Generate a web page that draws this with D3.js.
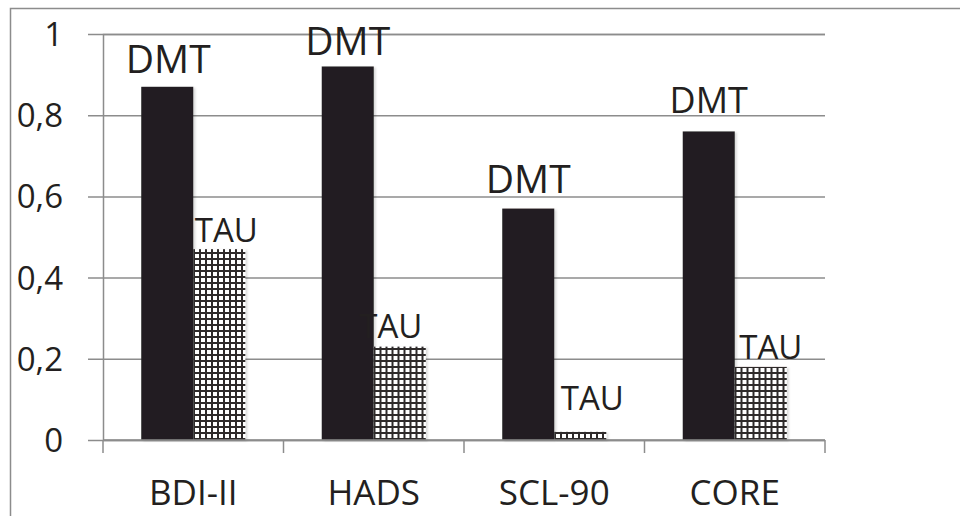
<!DOCTYPE html>
<html>
<head>
<meta charset="utf-8">
<script src="https://cdn.jsdelivr.net/npm/d3@7/dist/d3.min.js"></script>
<style>
  html, body { margin: 0; padding: 0; background: #fff; }
  svg { display: block; }
  text { font-family: "Open Sans", "Noto Sans", sans-serif; fill: #231f20; }
</style>
</head>
<body>
<svg id="chart" width="960" height="516"></svg>
<script>
// Scale instruments on the x axis
const categories = ["BDI-II", "HADS", "SCL-90", "CORE"];
// Effect sizes per group
const dmtValues = [0.87, 0.92, 0.57, 0.76];
const tauValues = [0.47, 0.23, 0.02, 0.18];
const seriesNames = ["DMT", "TAU"];
const yTicks = [0, 0.2, 0.4, 0.6, 0.8, 1];

// Label placement tweaks: [dx, dy from the bar top, font size]
const dmtLabelNudge = [[1, -14, 39], [0, -11, 39], [0, -16, 39], [0, -18, 36]];
const tauLabelNudge = [[7, -7, 33], [-9, -9, 33], [12, -22, 33], [10, -8, 33]];

const svg = d3.select("#chart");
const margin = { left: 103, right: 135, top: 34, bottom: 76 };
const W = 960, H = 516;

const x = d3.scaleBand().domain(categories)
  .range([margin.left, W - margin.right]).paddingInner(0).paddingOuter(0);
const xs = d3.scaleBand().domain(seriesNames)
  .range([0, x.bandwidth()]).paddingInner(0).paddingOuter(0.735);
const y = d3.scaleLinear().domain([0, 1]).range([H - margin.bottom, margin.top]);

// Outer frame
svg.append("rect").attr("x", 10.5).attr("y", 8.5).attr("width", 960).attr("height", 520)
  .attr("fill", "none").attr("stroke", "#8c8c8c").attr("stroke-width", 1.5);

// Cross-hatched fill for TAU bars
const defs = svg.append("defs");
const pat = defs.append("pattern").attr("id", "grid").attr("patternUnits", "userSpaceOnUse")
  .attr("width", 6).attr("height", 6);
pat.append("rect").attr("width", 6).attr("height", 6).attr("fill", "#fff");
pat.append("rect").attr("x", 0).attr("y", 0).attr("width", 2).attr("height", 6).attr("fill", "#2e2b2c");
pat.append("rect").attr("x", 0).attr("y", 0).attr("width", 6).attr("height", 2).attr("fill", "#2e2b2c");
const shadow = defs.append("filter").attr("id", "shadow")
  .attr("x", "-10%").attr("y", "-10%").attr("width", "130%").attr("height", "130%");
shadow.append("feDropShadow").attr("dx", 2).attr("dy", 1).attr("stdDeviation", 1.2)
  .attr("flood-color", "#000").attr("flood-opacity", 0.15);

// Gridlines and y axis
const yAxis = d3.axisLeft(y).tickValues(yTicks)
  .tickSize(-(W - margin.right - margin.left))
  .tickFormat(d => d3.format(".1~f")(d).replace(".", ","));
const gy = svg.append("g").attr("transform", `translate(${margin.left},0)`).call(yAxis);
gy.select(".domain").attr("stroke", "#8c8c8c").attr("stroke-width", 1.5);
gy.selectAll(".tick line").attr("stroke", "#8c8c8c").attr("stroke-width", 1.5)
  .attr("x1", -15);
gy.selectAll(".tick text").attr("font-size", 33).attr("x", -40).attr("dy", "0.35em")
  .style("font-family", "'Open Sans', sans-serif").attr("fill", "#231f20");

// Bars
const groups = svg.append("g").selectAll("g").data(categories).join("g")
  .attr("transform", d => `translate(${x(d)},0)`);

groups.append("rect")
  .attr("x", xs("DMT")).attr("width", xs.bandwidth())
  .attr("y", (d, i) => y(dmtValues[i]))
  .attr("height", (d, i) => y(0) - y(dmtValues[i]))
  .attr("fill", "#231f20").attr("filter", "url(#shadow)");

groups.append("rect")
  .attr("x", xs("TAU")).attr("width", xs.bandwidth())
  .attr("y", (d, i) => y(tauValues[i]))
  .attr("height", (d, i) => y(0) - y(tauValues[i]))
  .attr("fill", "url(#grid)").attr("filter", "url(#shadow)");

// x axis
const gx = svg.append("g").attr("transform", `translate(0,${y(0)})`);
gx.append("line").attr("x1", margin.left).attr("x2", W - margin.right)
  .attr("stroke", "#8c8c8c").attr("stroke-width", 1.5);
const bounds = categories.map(c => x(c)).concat([W - margin.right]);
gx.selectAll("line.tk").data(bounds).join("line").attr("class", "tk")
  .attr("x1", d => d).attr("x2", d => d).attr("y1", 0).attr("y2", 13)
  .attr("stroke", "#8c8c8c").attr("stroke-width", 1.5);
gx.selectAll("text").data(categories).join("text")
  .attr("x", d => x(d) + x.bandwidth() / 2).attr("y", 65)
  .attr("text-anchor", "middle").attr("font-size", 35).text(d => d);

// Series labels above each bar
groups.append("text")
  .attr("x", (d, i) => xs("DMT") + xs.bandwidth() / 2 + dmtLabelNudge[i][0])
  .attr("y", (d, i) => y(dmtValues[i]) + dmtLabelNudge[i][1])
  .attr("text-anchor", "middle")
  .attr("font-size", (d, i) => dmtLabelNudge[i][2])
  .text("DMT");

groups.append("text")
  .attr("x", (d, i) => xs("TAU") + xs.bandwidth() / 2 + tauLabelNudge[i][0])
  .attr("y", (d, i) => y(tauValues[i]) + tauLabelNudge[i][1])
  .attr("text-anchor", "middle")
  .attr("font-size", (d, i) => tauLabelNudge[i][2])
  .text("TAU");
</script>
</body>
</html>
